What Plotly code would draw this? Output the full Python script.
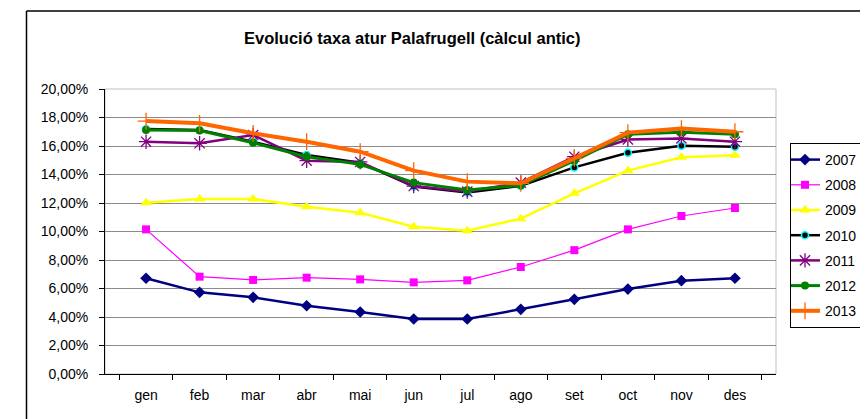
import plotly.graph_objects as go

months = ["gen", "feb", "mar", "abr", "mai", "jun", "jul", "ago", "set", "oct", "nov", "des"]

y2007 = [6.72, 5.73, 5.38, 4.79, 4.35, 3.86, 3.86, 4.54, 5.24, 5.96, 6.55, 6.72]
y2008 = [10.15, 6.83, 6.60, 6.76, 6.64, 6.43, 6.57, 7.51, 8.69, 10.15, 11.09, 11.65]
y2009 = [12.02, 12.28, 12.28, 11.74, 11.32, 10.34, 10.06, 10.90, 12.68, 14.27, 15.21, 15.35]
y2010 = [17.19, 17.12, 16.30, 15.37, 14.83, 13.15, 12.73, 13.20, 14.50, 15.53, 16.02, 15.95]
y2011 = [16.30, 16.19, 16.77, 14.97, 14.88, 13.19, 12.80, 13.43, 15.25, 16.46, 16.53, 16.30]
y2012 = [17.12, 17.08, 16.23, 15.25, 14.71, 13.43, 12.91, 13.24, 14.97, 16.82, 16.96, 16.82]
y2013 = [17.75, 17.59, 16.89, 16.30, 15.60, 14.27, 13.50, 13.38, 15.13, 16.94, 17.22, 17.00]

series = [
    ("2007", y2007, dict(color="#000080", width=2.5), dict(symbol="diamond", size=9, color="#000080")),
    ("2008", y2008, dict(color="#FF00FF", width=1.2), dict(symbol="square", size=8, color="#FF00FF")),
    ("2009", y2009, dict(color="#FFFF00", width=2.5), dict(symbol="triangle-up", size=10, color="#FFFF00")),
    ("2010", y2010, dict(color="#000000", width=2.5), dict(symbol="circle", size=7, color="#000000",
                                                          line=dict(color="#00FFFF", width=1.5))),
    ("2011", y2011, dict(color="#800080", width=2.5), dict(symbol="asterisk-open", size=12,
                                                          line=dict(color="#800080", width=1.3))),
    ("2012", y2012, dict(color="#008000", width=3), dict(symbol="circle", size=8, color="#008000")),
    ("2013", y2013, dict(color="#FF6600", width=4), dict(symbol="cross-thin-open", size=12,
                                                        line=dict(color="#FF6600", width=1.3))),
]

fig = go.Figure()
for name, ys, line, marker in series:
    fig.add_trace(go.Scatter(x=months, y=ys, name=name, legendgroup=name, mode="lines+markers",
                             line=line, marker=marker))

# page body has an 8px margin: lay out in screenshot pixels, then shift
OFF = 8
W, H = 868 - OFF, 419 - OFF
PL, PR, PT, PB = 105, 776, 89, 374  # plot area in screenshot pixels
L, R, T, B = PL - OFF, W - (PR - OFF), PT - OFF, H - (PB - OFF)
pw, ph = W - L - R, H - T - B

def px2x(px):
    return (px - OFF - L) / pw

def px2y(py):
    return (H - B - (py - OFF)) / ph

fig.update_layout(
    width=W, height=H,
    margin=dict(l=L, r=R, t=T, b=B, pad=0, autoexpand=False),
    paper_bgcolor="white", plot_bgcolor="white",
    separators=",.",
    font=dict(family="Liberation Sans, Arial, sans-serif", size=14, color="black"),
    showlegend=True,
    legend=dict(x=px2x(790), y=px2y(143), xanchor="left", yanchor="top",
                bordercolor="#000000", borderwidth=1, bgcolor="white",
                font=dict(size=14), tracegroupgap=4, itemwidth=30, indentation=-6),
    annotations=[dict(text="<b>Evolució taxa atur Palafrugell (càlcul antic)</b>",
                      x=px2x(412), y=px2y(38), xref="paper", yref="paper",
                      showarrow=False, font=dict(size=16.5),
                      xanchor="center", yanchor="middle")],
    shapes=[
        dict(type="rect", xref="paper", yref="paper", x0=0, x1=1, y0=0, y1=1,
             line=dict(color="#c0c0c0", width=1), layer="below"),
        dict(type="line", xref="paper", yref="paper", x0=px2x(26.5), x1=px2x(26.5),
             y0=px2y(440), y1=px2y(11), line=dict(color="black", width=1.5)),
        dict(type="line", xref="paper", yref="paper", x0=px2x(26.5), x1=px2x(900),
             y0=px2y(11), y1=px2y(11), line=dict(color="black", width=1.5)),
    ],
)

fig.update_xaxes(type="category", showgrid=False, showline=True, linecolor="black", linewidth=1,
                 ticks="outside", tickson="boundaries", ticklen=5, tickcolor="black",
                 ticklabelstandoff=8, tickfont=dict(size=14), mirror=False, automargin=False)
fig.update_yaxes(range=[0, 20], dtick=2, tickformat=".2f", ticksuffix="%",
                 showgrid=True, gridcolor="#8c8c8c", gridwidth=1,
                 showline=True, linecolor="black", linewidth=1,
                 ticks="outside", ticklen=5, tickcolor="black",
                 ticklabelstandoff=8, tickfont=dict(size=14), zeroline=False, automargin=False)

fig.write_html("out.html")
